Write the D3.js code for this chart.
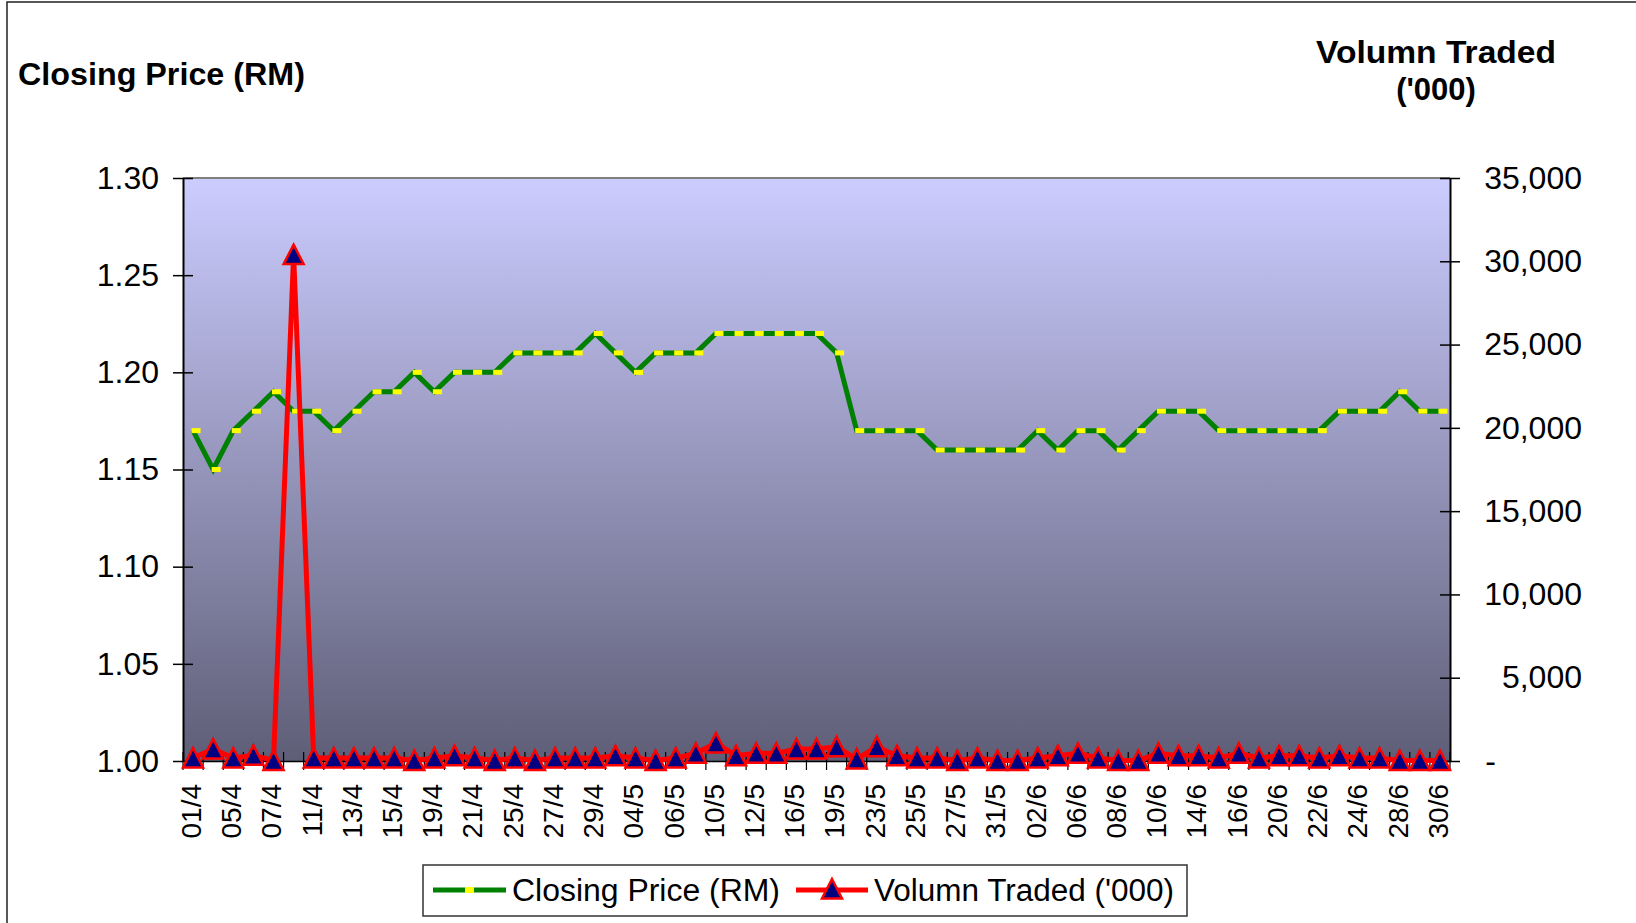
<!DOCTYPE html>
<html>
<head>
<meta charset="utf-8">
<script src="https://cdnjs.cloudflare.com/ajax/libs/d3/7.8.5/d3.min.js"></script>
<style>
  body { margin: 0; background: #fff; }
  text { font-family: "Liberation Sans", Arial, sans-serif; fill: #000; }
</style>
</head>
<body>
<div id="chart"></div>
<script>
// trading days, apr - jun
var dates = ["01/4","04/4","05/4","06/4","07/4","08/4","11/4","12/4","13/4","14/4",
  "15/4","18/4","19/4","20/4","21/4","22/4","25/4","26/4","27/4","28/4",
  "29/4","03/5","04/5","05/5","06/5","09/5","10/5","11/5","12/5","13/5",
  "16/5","18/5","19/5","20/5","23/5","24/5","25/5","26/5","27/5","30/5",
  "31/5","01/6","02/6","03/6","06/6","07/6","08/6","09/6","10/6","13/6",
  "14/6","15/6","16/6","17/6","20/6","21/6","22/6","23/6","24/6","27/6",
  "28/6","29/6","30/6"];

// closing price (RM)
var closingPrice = [1.17,1.15,1.17,1.18,1.19,1.18,1.18,1.17,1.18,1.19,
  1.19,1.20,1.19,1.20,1.20,1.20,1.21,1.21,1.21,1.21,
  1.22,1.21,1.20,1.21,1.21,1.21,1.22,1.22,1.22,1.22,
  1.22,1.22,1.21,1.17,1.17,1.17,1.17,1.16,1.16,1.16,
  1.16,1.16,1.17,1.16,1.17,1.17,1.16,1.17,1.18,1.18,
  1.18,1.17,1.17,1.17,1.17,1.17,1.17,1.18,1.18,1.18,
  1.19,1.18,1.18];

// volume traded ('000)
var volumeTraded = [180,720,180,340,30,30400,180,180,180,180,
  180,30,180,320,180,30,180,30,180,180,
  180,320,180,30,180,460,1080,320,460,460,
  720,720,850,120,850,320,180,180,30,180,
  30,30,180,320,460,180,30,30,460,320,
  320,180,460,180,320,320,180,320,180,180,
  30,30,30];

var priceTicks = [1.00,1.05,1.10,1.15,1.20,1.25,1.30];
var volumeTicks = [0,5000,10000,15000,20000,25000,30000,35000];
var seriesNames = ["Closing Price (RM)", "Volumn Traded ('000)"];

var svgWidth = 1636;
var svgHeight = 923;

var margin = {
  top: 178,
  right: 186,
  bottom: 162,
  left: 183
};

var width = svgWidth - margin.left - margin.right;
var height = svgHeight - margin.top - margin.bottom;

var svg = d3.select("#chart")
  .append("svg")
  .attr("width", svgWidth)
  .attr("height", svgHeight);

// outer frame
svg.append("rect")
  .attr("x", 7)
  .attr("y", 2)
  .attr("width", svgWidth + 20)
  .attr("height", svgHeight + 20)
  .attr("fill", "none")
  .attr("stroke", "#222")
  .attr("stroke-width", 1.5);

var defs = svg.append("defs");
var grad = defs.append("linearGradient")
  .attr("id", "plotFill")
  .attr("x1", 0).attr("y1", 0)
  .attr("x2", 0).attr("y2", 1);
grad.append("stop").attr("offset", "0%").attr("stop-color", "#CCCCFF");
grad.append("stop").attr("offset", "100%").attr("stop-color", "#5E5E77");

var chartGroup = svg.append("g")
  .attr("transform", `translate(${margin.left}, ${margin.top})`);

// scales
var xScale = d3.scaleBand()
  .domain(dates)
  .range([0, width]);

var yPrice = d3.scaleLinear()
  .domain([1.00, 1.30])
  .range([height, 0]);

var yVolume = d3.scaleLinear()
  .domain([0, 35000])
  .range([height, 0]);

var xMid = function(d) { return xScale(d) + xScale.bandwidth() / 2; };

// plot area
chartGroup.append("rect")
  .attr("width", width)
  .attr("height", height)
  .attr("fill", "url(#plotFill)");

chartGroup.append("line")
  .attr("x1", 0).attr("x2", width)
  .attr("y1", 0).attr("y2", 0)
  .attr("stroke", "#808080")
  .attr("stroke-width", 2);

// left axis
var leftAxis = d3.axisLeft(yPrice)
  .tickValues(priceTicks)
  .tickFormat(d3.format(".2f"))
  .tickSizeOuter(0)
  .tickPadding(18);

var leftG = chartGroup.append("g").call(leftAxis);
leftG.select(".domain").attr("stroke", "#000").attr("stroke-width", 2);
leftG.selectAll(".tick line").attr("x1", -10).attr("x2", 10).attr("stroke", "#000").attr("stroke-width", 1.5);
leftG.selectAll(".tick text")
  .style("font-size", "32px")
  .style("font-family", "Liberation Sans, Arial, sans-serif");

// right axis
var rightAxis = d3.axisRight(yVolume)
  .tickValues(volumeTicks)
  .tickFormat(function(d) { return d === 0 ? "-" : d3.format(",")(d); })
  .tickSizeOuter(0)
  .tickPadding(126);

var rightG = chartGroup.append("g")
  .attr("transform", `translate(${width}, 0)`)
  .call(rightAxis);
rightG.select(".domain").attr("stroke", "#000").attr("stroke-width", 2);
rightG.selectAll(".tick line").attr("x1", -10).attr("x2", 10).attr("stroke", "#000").attr("stroke-width", 1.5);
rightG.selectAll(".tick text")
  .attr("text-anchor", "end")
  .attr("dx", function(d) { return d === 0 ? -86 : 0; })
  .style("font-size", "32px")
  .style("font-family", "Liberation Sans, Arial, sans-serif");

// bottom axis
var bottomAxis = d3.axisBottom(xScale)
  .tickValues(dates.filter(function(d, i) { return i % 2 === 0; }))
  .tickSize(0)
  .tickPadding(0);

var bottomG = chartGroup.append("g")
  .attr("transform", `translate(0, ${height})`)
  .call(bottomAxis);
bottomG.select(".domain").attr("stroke", "#000").attr("stroke-width", 1.5);
bottomG.selectAll(".tick text")
  .attr("transform", "translate(0, 23) rotate(-90)")
  .attr("text-anchor", "end")
  .attr("x", 0)
  .attr("y", 0)
  .attr("dy", "0.28em")
  .style("font-size", "28px")
  .style("font-family", "Liberation Sans, Arial, sans-serif");

// category boundary ticks
bottomG.selectAll(".edge")
  .data(dates.concat(["end"]))
  .enter()
  .append("line")
  .attr("class", "edge")
  .attr("x1", function(d, i) { return i < dates.length ? xScale(d) : width; })
  .attr("x2", function(d, i) { return i < dates.length ? xScale(d) : width; })
  .attr("y1", -9)
  .attr("y2", 9)
  .attr("stroke", "#000")
  .attr("stroke-width", 1.2);

// closing price line
var priceLine = d3.line()
  .x(function(d, i) { return xMid(dates[i]); })
  .y(function(d) { return yPrice(d); });

chartGroup.append("path")
  .datum(closingPrice)
  .attr("d", priceLine)
  .attr("fill", "none")
  .attr("stroke", "#008000")
  .attr("stroke-width", 5)
  .attr("stroke-linejoin", "miter");

chartGroup.selectAll(".priceMark")
  .data(closingPrice)
  .enter()
  .append("rect")
  .attr("class", "priceMark")
  .attr("x", function(d, i) { return xMid(dates[i]) - 1.5; })
  .attr("y", function(d) { return yPrice(d) - 2.5; })
  .attr("width", 9)
  .attr("height", 5)
  .attr("fill", "#FFFF00");

// volume line
var volumeLine = d3.line()
  .x(function(d, i) { return xMid(dates[i]); })
  .y(function(d) { return yVolume(d); });

chartGroup.append("path")
  .datum(volumeTraded)
  .attr("d", volumeLine)
  .attr("fill", "none")
  .attr("stroke", "#FF0000")
  .attr("stroke-width", 5);

var triPath = "M0,-10L10,9.5L-10,9.5Z";

chartGroup.selectAll(".volMark")
  .data(volumeTraded)
  .enter()
  .append("path")
  .attr("class", "volMark")
  .attr("d", triPath)
  .attr("transform", function(d, i) { return `translate(${xMid(dates[i])}, ${yVolume(d)})`; })
  .attr("fill", "#000080")
  .attr("stroke", "#FF0000")
  .attr("stroke-width", 2.5);

// axis titles
svg.append("text")
  .attr("x", 18)
  .attr("y", 85)
  .attr("textLength", 287)
  .attr("lengthAdjust", "spacingAndGlyphs")
  .style("font-size", "31px")
  .style("font-weight", "bold")
  .text("Closing Price (RM)");

svg.append("text")
  .attr("x", 1316)
  .attr("y", 63)
  .attr("textLength", 240)
  .attr("lengthAdjust", "spacingAndGlyphs")
  .style("font-size", "31px")
  .style("font-weight", "bold")
  .text("Volumn Traded");

svg.append("text")
  .attr("x", 1436)
  .attr("y", 100)
  .attr("text-anchor", "middle")
  .style("font-size", "31px")
  .style("font-weight", "bold")
  .text("('000)");

// legend
var legend = svg.append("g");

legend.append("rect")
  .attr("x", 423)
  .attr("y", 865)
  .attr("width", 764)
  .attr("height", 51)
  .attr("fill", "#fff")
  .attr("stroke", "#333")
  .attr("stroke-width", 1.5);

legend.append("line")
  .attr("x1", 433).attr("x2", 506)
  .attr("y1", 890).attr("y2", 890)
  .attr("stroke", "#008000")
  .attr("stroke-width", 5);

legend.append("rect")
  .attr("x", 465).attr("y", 887)
  .attr("width", 9).attr("height", 6)
  .attr("fill", "#FFFF00");

legend.append("text")
  .attr("x", 512)
  .attr("y", 901)
  .attr("textLength", 268)
  .attr("lengthAdjust", "spacingAndGlyphs")
  .style("font-size", "31px")
  .text(seriesNames[0]);

legend.append("line")
  .attr("x1", 796).attr("x2", 868)
  .attr("y1", 890).attr("y2", 890)
  .attr("stroke", "#FF0000")
  .attr("stroke-width", 5);

legend.append("path")
  .attr("d", triPath)
  .attr("transform", "translate(832, 889)")
  .attr("fill", "#000080")
  .attr("stroke", "#FF0000")
  .attr("stroke-width", 2.5);

legend.append("text")
  .attr("x", 874)
  .attr("y", 901)
  .attr("textLength", 300)
  .attr("lengthAdjust", "spacingAndGlyphs")
  .style("font-size", "31px")
  .text(seriesNames[1]);
</script>
</body>
</html>
